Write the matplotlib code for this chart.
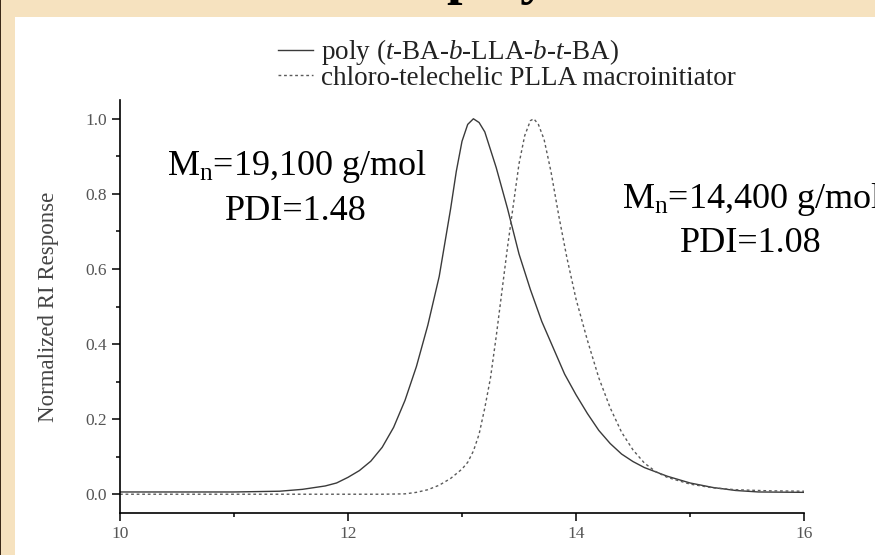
import matplotlib
matplotlib.use('Agg')
import matplotlib.pyplot as plt
from matplotlib.patches import Rectangle
from matplotlib.ticker import MultipleLocator, FormatStrFormatter

plt.rcParams['font.family'] = ['Liberation Serif', 'DejaVu Serif']
plt.rcParams['mathtext.fontset'] = 'custom'
plt.rcParams['mathtext.rm'] = 'Liberation Serif'
plt.rcParams['mathtext.it'] = 'Liberation Serif:italic'

# GPC traces (elution time, normalized RI response)
poly_x = [10.0, 11.0, 11.4, 11.6, 11.8, 11.9, 12.0, 12.1, 12.2, 12.3,
          12.4, 12.5, 12.6, 12.7, 12.8, 12.9, 12.95, 13.0, 13.05, 13.1,
          13.15, 13.2, 13.3, 13.4, 13.5, 13.6, 13.7, 13.8, 13.9, 14.0,
          14.1, 14.2, 14.3, 14.4, 14.5, 14.6, 14.8, 15.0, 15.2, 15.4,
          15.6, 16.0]
poly_y = [0.006, 0.006, 0.008, 0.013, 0.022, 0.03, 0.045, 0.063, 0.088, 0.125,
          0.178, 0.25, 0.34, 0.45, 0.58, 0.76, 0.86, 0.94, 0.985, 1.0,
          0.99, 0.965, 0.87, 0.76, 0.64, 0.545, 0.46, 0.39, 0.32, 0.265,
          0.215, 0.17, 0.135, 0.107, 0.087, 0.071, 0.048, 0.03, 0.018, 0.01,
          0.006, 0.005]

plla_x = [10.0, 12.3, 12.5, 12.6, 12.7, 12.8, 12.9, 13.0, 13.05, 13.1,
          13.15, 13.2, 13.25, 13.3, 13.35, 13.4, 13.45, 13.5, 13.55, 13.6,
          13.63, 13.67, 13.72, 13.78, 13.85, 13.92, 14.0, 14.1, 14.2, 14.3,
          14.4, 14.5, 14.6, 14.7, 14.8, 15.0, 15.2, 15.4, 15.7, 16.0]
plla_y = [0.0, 0.0, 0.001, 0.005, 0.012, 0.024, 0.042, 0.067, 0.085, 0.115,
          0.16, 0.23, 0.31, 0.42, 0.54, 0.66, 0.77, 0.88, 0.955, 0.995,
          1.0, 0.985, 0.945, 0.86, 0.74, 0.63, 0.52, 0.41, 0.31, 0.23,
          0.165, 0.118, 0.083, 0.06, 0.045, 0.027, 0.017, 0.012, 0.009, 0.008]

poly_label = r'poly ($\mathit{t}$-BA-$\mathit{b}$-LLA-$\mathit{b}$-$\mathit{t}$-BA)'
plla_label = 'chloro-telechelic PLLA macroinitiator'
ylabel = 'Normalized RI Response'

W, H = 875, 555
fig = plt.figure(figsize=(W / 100, H / 100), dpi=100)
fig.patch.set_facecolor('#F6E2BF')

# white panel over the parchment background
fig.patches.append(Rectangle((15 / W, 0), 1, 1 - 17 / H, transform=fig.transFigure,
                             facecolor='white', edgecolor='none', zorder=-10))
fig.patches.append(Rectangle((0, 0), 1 / W, 1, transform=fig.transFigure,
                             facecolor='#3b2a18', edgecolor='none', zorder=-10))

# slide title, mostly cut off at the top
fig.text(497 / W, 1 + 7 / H, 'poly', fontsize=40, fontweight='bold',
         ha='center', va='baseline', color='black')

ax = fig.add_axes([120 / W, 1 - 513 / H, 684 / W, 413 / H])
ax.patch.set_alpha(0)

ax.plot(poly_x, poly_y, color='#3a3a3a', lw=1.0, label=poly_label)
ax.plot(plla_x, plla_y, color='#5a5a5a', lw=1.0, linestyle=(0, (2, 2)), label=plla_label)

ax.set_xlim(10, 16)
ax.set_ylim(-0.05, 1.05)
ax.xaxis.set_major_locator(MultipleLocator(2))
ax.xaxis.set_minor_locator(MultipleLocator(1))
ax.yaxis.set_major_locator(MultipleLocator(0.2))
ax.yaxis.set_minor_locator(MultipleLocator(0.1))
ax.yaxis.set_major_formatter(FormatStrFormatter('%.1f'))

for side in ['top', 'right']:
    ax.spines[side].set_visible(False)
for side in ['left', 'bottom']:
    ax.spines[side].set_linewidth(1.2)

ax.tick_params(which='major', direction='out', length=5.5, width=1.1,
               labelsize=12.5, labelcolor='#555555', pad=4)
ax.tick_params(which='minor', direction='out', length=3, width=1.1)

ax.set_ylabel(ylabel, fontsize=16.5, color='#444444')
ax.yaxis.set_label_coords(-0.089, 0.5)

fig.legend(loc='upper left', bbox_to_anchor=(278 / W, 1 - 37 / H), frameon=False,
           fontsize=19.5, handlelength=1.3, handletextpad=0.3, labelspacing=-0.05,
           borderpad=0, borderaxespad=0, labelcolor='#222222')

# molecular weight notes
fig.text(167 / W, 1 - 175 / H, r'M$_\mathrm{n}$=19,100 g/mol', fontsize=26, va='baseline')
fig.text(225 / W, 1 - 220 / H, 'PDI=1.48', fontsize=26, va='baseline')
fig.text(622 / W, 1 - 208 / H, r'M$_\mathrm{n}$=14,400 g/mol', fontsize=26, va='baseline')
fig.text(680 / W, 1 - 252 / H, 'PDI=1.08', fontsize=26, va='baseline')

fig.savefig('out.png', dpi=100, facecolor=fig.get_facecolor())
